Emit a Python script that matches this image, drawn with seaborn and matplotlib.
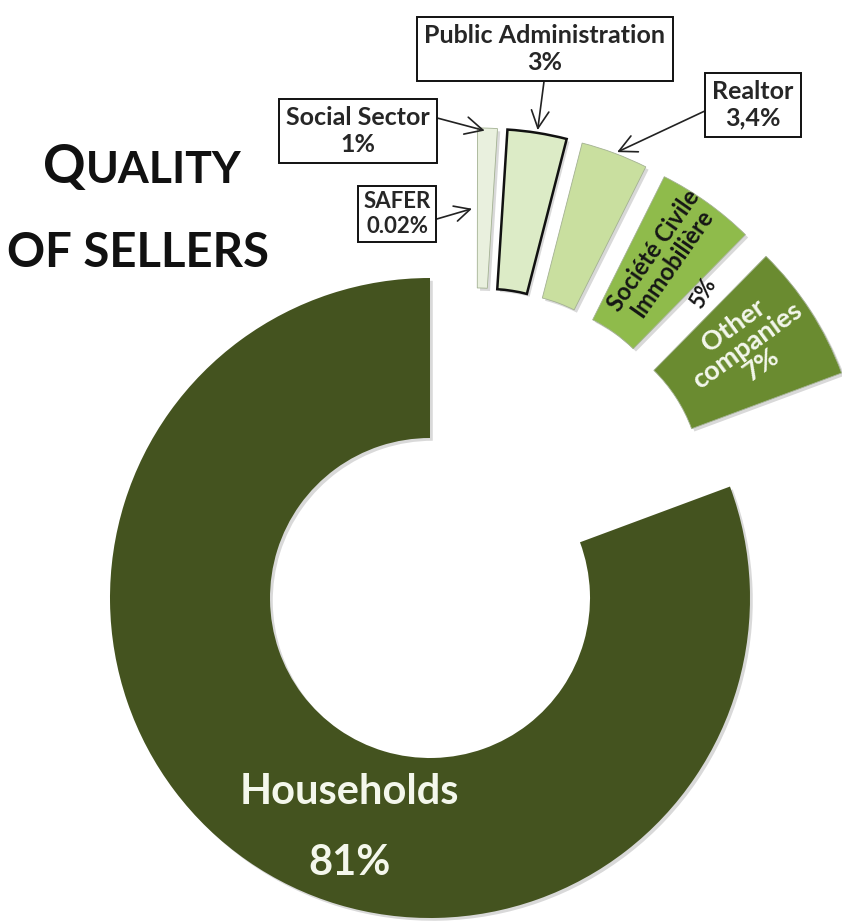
import numpy as np
import matplotlib.pyplot as plt
import matplotlib.patheffects as pe
import seaborn as sns

categories = ["Households", "Other companies", "Société Civile Immobilière", "Realtor",
              "Public Administration", "Social Sector", "SAFER"]
shares = [81, 7, 5, 3.4, 3, 1, 0.02]
share_labels = ["81%", "7%", "5%", "3,4%", "3%", "1%", "0.02%"]
colors = ["#44531f", "#6a8b30", "#8fbb4b", "#c9df9f", "#dcebc6", "#e9f0de", "#eef3e6"]

W, H = 842, 923
CX, CY, R = 430, 598, 320   # ring centre and outer radius in pixels


def px(x, y):
    # picture pixel -> data coordinates (ring radius = 1)
    return (x - CX) / R, (CY - y) / R


def on_wedge(w, frac_r, theta=None):
    a = np.deg2rad((w.theta1 + w.theta2) / 2 if theta is None else theta)
    return w.center[0] + frac_r * w.r * np.cos(a), w.center[1] + frac_r * w.r * np.sin(a)


sns.set_style("white")
plt.rcParams["font.family"] = ["Lato", "DejaVu Sans"]
plt.rcParams["font.weight"] = "bold"

fig = plt.figure(figsize=(W / 100, H / 100), dpi=100)
ax = fig.add_axes([0, 0, 1, 1])

shadow = [pe.withSimplePatchShadow(offset=(2, -2), shadow_rgbFace="k", alpha=0.15)]

# big ring: only households stays in place
inner, _ = ax.pie(shares, colors=colors, startangle=90, radius=1,
                  wedgeprops=dict(width=0.5, linewidth=0))
for w in inner[1:]:
    w.set_visible(False)
inner[0].set_path_effects(shadow)

# small sellers pulled away from the ring
outer, _ = ax.pie(shares, colors=colors, startangle=90, radius=1, center=(0.139, 0.219),
                  explode=[0] + [0.25] * 6,
                  wedgeprops=dict(width=0.5, linewidth=0.6, edgecolor="#a3b192"))
outer[0].set_visible(False)
outer[6].set_visible(False)
for w in outer[1:6]:
    w.set_path_effects(shadow)
outer[4].set_edgecolor("#111111")
outer[4].set_linewidth(1.8)

ax.set_xlim(-CX / R, (W - CX) / R)
ax.set_ylim(-(H - CY) / R, CY / R)
ax.set_aspect("equal")
ax.axis("off")

# labels inside the slices
ax.text(*px(349, 792), categories[0], color="#f4f7ec", fontsize=30, ha="center", va="center")
ax.text(*px(350, 863), share_labels[0], color="#f4f7ec", fontsize=30, ha="center", va="center")
ax.text(*px(747, 345), "Other\ncompanies\n" + share_labels[1], color="#f4f7ec", fontsize=19.5,
        ha="center", va="center", rotation=36, linespacing=1.0)
ax.text(*px(663, 257), "Société Civile\nImmobilière", color="#151515", fontsize=17,
        ha="center", va="center", rotation=55, linespacing=1.0)
ax.text(*px(703, 293), share_labels[2], color="#151515", fontsize=16,
        ha="center", va="center", rotation=60)

# call-out boxes
box = dict(boxstyle="square,pad=0.3", fc="white", ec="#111111", lw=1.4)
arrow = dict(arrowstyle="->,head_length=0.7,head_width=0.35", color="#222222", lw=1.2,
             shrinkA=0, shrinkB=2)
ax.annotate(f"{categories[4]}\n{share_labels[4]}", xy=on_wedge(outer[4], 1.0),
            xytext=px(545, 49), ha="center", va="center", fontsize=18, bbox=box,
            arrowprops=dict(arrow, relpos=(0.5, 0.0)))
ax.annotate(f"{categories[5]}\n{share_labels[5]}", xy=on_wedge(outer[5], 0.99),
            xytext=px(358, 131), ha="center", va="center", fontsize=18, bbox=box,
            arrowprops=dict(arrow, relpos=(1.0, 0.8)))
ax.annotate(f"{categories[6]}\n{share_labels[6]}", xy=on_wedge(outer[6], 0.75),
            xytext=px(397, 214), ha="center", va="center", fontsize=16, fontweight="bold",
            bbox=dict(box, boxstyle="square,pad=0.25"),
            arrowprops=dict(arrow, relpos=(1.0, 0.35)))
ax.annotate(f"{categories[3]}\n{share_labels[3]}", xy=on_wedge(outer[3], 1.0),
            xytext=px(753, 105), ha="center", va="center", fontsize=18, bbox=box,
            arrowprops=dict(arrow, relpos=(0.0, 0.45)))

# title in small caps
q = fig.text(43 / W, 1 - 183 / H, "Q", fontsize=38, color="#111111", va="baseline")
fig.canvas.draw()
bb = q.get_window_extent()
fig.text(bb.x1 / W, 1 - 183 / H, "UALITY", fontsize=32, color="#111111", va="baseline")
fig.text(7 / W, 1 - 267 / H, "OF SELLERS", fontsize=34, color="#111111", va="baseline")

fig.savefig("out.png", dpi=100)
